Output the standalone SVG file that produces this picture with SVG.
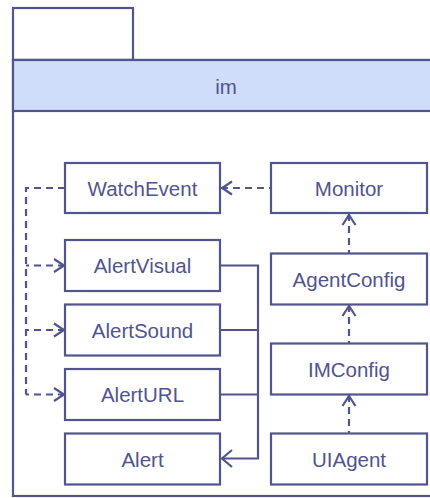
<svg xmlns="http://www.w3.org/2000/svg" width="430" height="498" viewBox="0 0 430 498">
<defs>
<style>
.f{fill:#ffffff;stroke:#50548f;stroke-width:2.2}
.h{fill:#cfdcfa;stroke:#50548f;stroke-width:2.2}
.t{font-family:"Liberation Sans",Arial,sans-serif;font-size:20.5px;fill:#50548f;text-anchor:middle}
.s{fill:none;stroke:#50548f;stroke-width:2.2}
.d{fill:none;stroke:#50548f;stroke-width:2.2;stroke-dasharray:7,5}
</style>
<marker id="a" markerWidth="14" markerHeight="16" refX="1" refY="8" orient="auto" markerUnits="userSpaceOnUse">
<path d="M12,1.5 L2,8 L12,14.5" fill="none" stroke="#50548f" stroke-width="2.2"/>
</marker>
</defs>
<g id="package">
<rect class="f" x="13" y="8" width="120" height="52"/>
<rect class="f" x="13" y="60" width="430" height="436"/>
<rect class="h" x="13" y="60" width="430" height="51"/>
<text class="t" x="226" y="94">im</text>
</g>
<g id="connectors">
<path class="d" d="M65,188 H26 V394.5"/>
<path class="d" d="M65,265.5 H26" marker-start="url(#a)"/>
<path class="d" d="M65,330 H26" marker-start="url(#a)"/>
<path class="d" d="M65,394.5 H26" marker-start="url(#a)"/>
<path class="d" d="M221,188 H271" marker-start="url(#a)"/>
<path class="d" d="M349,214 V253" marker-start="url(#a)"/>
<path class="d" d="M349,305 V343" marker-start="url(#a)"/>
<path class="d" d="M349,395 V433" marker-start="url(#a)"/>
<path class="s" d="M220,265.5 H258 V458.5 H222"/>
<path class="s" d="M220,330 H258"/>
<path class="s" d="M220,394.5 H258"/>
<path class="s" d="M232,450 L222,458.5 L232,467"/>
</g>
<g id="WatchEvent"><rect class="f" x="65" y="163" width="155" height="50"/><text class="t" x="142.5" y="195.5">WatchEvent</text></g>
<g id="AlertVisual"><rect class="f" x="65" y="240" width="155" height="51"/><text class="t" x="142.5" y="273">AlertVisual</text></g>
<g id="AlertSound"><rect class="f" x="65" y="304.5" width="155" height="51"/><text class="t" x="142.5" y="337.5">AlertSound</text></g>
<g id="AlertURL"><rect class="f" x="65" y="369" width="155" height="51"/><text class="t" x="142.5" y="402">AlertURL</text></g>
<g id="Alert"><rect class="f" x="65" y="433.5" width="155" height="51"/><text class="t" x="142.5" y="466.5">Alert</text></g>
<g id="Monitor"><rect class="f" x="271" y="163" width="156" height="50"/><text class="t" x="349" y="195.5">Monitor</text></g>
<g id="AgentConfig"><rect class="f" x="271" y="253.5" width="156" height="51"/><text class="t" x="349" y="286.5">AgentConfig</text></g>
<g id="IMConfig"><rect class="f" x="271" y="343.5" width="156" height="51"/><text class="t" x="349" y="376.5">IMConfig</text></g>
<g id="UIAgent"><rect class="f" x="271" y="433.5" width="156" height="51"/><text class="t" x="349" y="466.5">UIAgent</text></g>
</svg>
